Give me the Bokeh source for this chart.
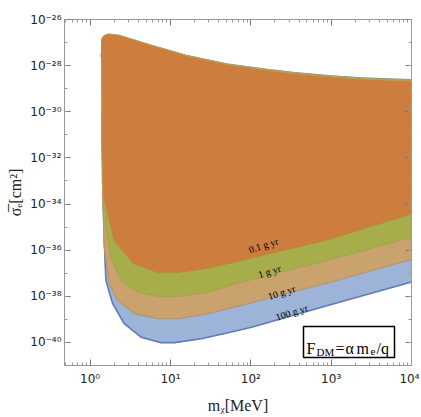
import numpy as np
from bokeh.plotting import figure
from bokeh.models import (LogAxis, FixedTicker, CustomJSTickFormatter,
                          Label, BoxAnnotation, Range1d)
from bokeh.core.properties import value
from bokeh.embed import file_html
from bokeh.resources import INLINE

# ---- data (mass in MeV, log10 of cross-section in cm^2) ----
upper_m = [1.38, 1.42, 1.50, 1.73, 2.3, 3.5, 6.0, 15.7, 52, 160, 355, 1000, 2420, 10000]
upper_blue = [-27.6, -26.82, -26.70, -26.63, -26.69, -26.88, -27.13, -27.55, -27.93, -28.16, -28.30, -28.44, -28.53, -28.61]
upper_shift_tan = 0.03
upper_shift_green = 0.06
upper_shift_orange = 0.11

low_100_m = [1.38, 1.40, 1.43, 1.50, 1.57, 1.91, 2.66, 4.3, 7.65, 11.2, 24.2, 57, 102, 1000, 10000]
low_100_s = [-27.6, -30.0, -33.0, -35.5, -37.31, -38.32, -39.19, -39.77, -40.01, -40.01, -39.84, -39.55, -39.34, -38.36, -37.38]

low_10_m = [1.39, 1.41, 1.45, 1.50, 1.73, 2.2, 3.55, 6.96, 12.4, 29.3, 76.5, 1000, 10000]
low_10_s = [-27.6, -31.0, -34.0, -35.87, -37.45, -38.18, -38.75, -38.97, -38.97, -38.75, -38.39, -37.38, -36.40]

low_1_m = [1.40, 1.42, 1.57, 1.81, 2.42, 3.91, 6.96, 12.4, 29.3, 76.5, 1000, 10000]
low_1_s = [-27.6, -31.5, -34.85, -36.30, -37.31, -37.82, -38.0, -38.0, -37.82, -37.38, -36.40, -35.43]

low_01_m = [1.41, 1.43, 1.50, 2.0, 3.55, 6.96, 12.4, 26.6, 76.5, 102, 841, 10000]
low_01_s = [-27.6, -31.0, -33.70, -35.57, -36.59, -36.95, -36.95, -36.80, -36.44, -36.33, -35.57, -34.42]

labels = ["100 g yr", "10 g yr", "1 g yr", "0.1 g yr"]
label_m = [323, 242, 171, 144]
label_s = [-38.70, -37.83, -36.92, -35.79]

fills = ["#9DB3D7", "#C9A26E", "#A7AD4B", "#CD7E3E"]
lines = ["#5A7EC0", "#C0955A", "#A0A845", "#CD7E3E"]

x_ticks = [1, 10, 100, 1000, 10000]
y_ticks = [1e-26, 1e-28, 1e-30, 1e-32, 1e-34, 1e-36, 1e-38, 1e-40]

p = figure(x_axis_type="log", y_axis_type="log",
           x_range=Range1d(0.48, 10000), y_range=Range1d(1e-41, 1e-26),
           frame_width=347, frame_height=346,
           min_border_left=64, min_border_top=19, min_border_right=8, min_border_bottom=50,
           output_backend="svg", toolbar_location=None)
p.grid.visible = False
p.outline_line_color = "#999999"
p.background_fill_color = "white"

bands = [(low_100_m, low_100_s, 0.0),
         (low_10_m, low_10_s, upper_shift_tan),
         (low_1_m, low_1_s, upper_shift_green),
         (low_01_m, low_01_s, upper_shift_orange)]

for i, (lm, ls, sh) in enumerate(bands):
    up_m = np.array(upper_m)
    up_s = np.array(upper_blue) - sh * np.linspace(0.2, 1, len(upper_m))
    xs = list(up_m) + list(lm[::-1])
    ys = list(10 ** up_s) + list(10 ** np.array(ls[::-1]))
    p.patch(xs, ys, fill_color=fills[i], line_color=fills[i], line_width=1)
    p.line(lm[1:], list(10 ** np.array(ls[1:])), line_color=lines[i], line_width=1.6 if i == 0 else 1.2)
    p.line(list(up_m), list(10 ** up_s), line_color=lines[i], line_width=1.2, line_alpha=0.6)

for t, m, s in zip(labels, label_m, label_s):
    p.text(x=[m], y=[10 ** s], text=[t], angle=0.31, text_align="center", text_baseline="middle",
           text_font=value("Liberation Serif"), text_font_size="10px", text_color="black")

fmt = CustomJSTickFormatter(code="""
const sup = {'-':'\\u207B','0':'\\u2070','1':'\\u00B9','2':'\\u00B2','3':'\\u00B3','4':'\\u2074','5':'\\u2075','6':'\\u2076','7':'\\u2077','8':'\\u2078','9':'\\u2079'};
const e = Math.round(Math.log10(tick));
return '10' + String(e).split('').map(c => sup[c]).join('');
""")
blank = CustomJSTickFormatter(code="return ' ';")

xax = p.xaxis[0]
xax.ticker = FixedTicker(ticks=x_ticks,
                         minor_ticks=[k * 10 ** d for d in range(-1, 4) for k in range(2, 10)])
yax = p.yaxis[0]
yax.ticker = FixedTicker(ticks=y_ticks, minor_ticks=[10.0 ** e for e in range(-41, -25)])

def style(ax):
    ax.major_tick_in = 6
    ax.major_tick_out = 0
    ax.minor_tick_in = 3
    ax.minor_tick_out = 0
    ax.axis_line_color = "#999999"
    ax.major_tick_line_color = "#777777"
    ax.minor_tick_line_color = "#999999"

for ax in (xax, yax):
    style(ax)
    ax.formatter = fmt
    ax.major_label_text_font = "DejaVu Sans"
    ax.major_label_text_font_size = "12px"
    ax.major_label_text_color = "#222222"
    ax.axis_label_text_font = "Liberation Serif"
    ax.axis_label_text_font_style = "normal"
    ax.axis_label_text_font_size = "16px"
    ax.axis_label_text_color = "#222222"

xax.axis_label = "m\u1D6A[MeV]"
yax.axis_label = "\u03C3\u0305\u2091[cm\u00B2]"
xax.major_label_standoff = 6
yax.major_label_standoff = 3
xax.axis_label_standoff = 8
yax.axis_label_standoff = 3

for loc, tk in (("right", yax.ticker), ("above", xax.ticker)):
    ax = LogAxis(ticker=tk, formatter=blank)
    style(ax)
    ax.major_label_text_font_size = "2px"
    ax.major_label_standoff = 0
    p.add_layout(ax, loc)

box = BoxAnnotation(left=303, right=394, top=326, bottom=357,
                    left_units="canvas", right_units="canvas", top_units="canvas", bottom_units="canvas",
                    fill_color="white", fill_alpha=1.0, line_color="black", line_alpha=1.0, line_width=1.5)
p.add_layout(box)

pieces = [("F", 306, 16, 348), ("DM", 316, 11, 351), ("=", 335, 16, 348), ("\u03B1", 345, 16, 348),
          ("m", 356, 16, 348), ("e", 370, 11, 351), ("/q", 376, 16, 348)]
for txt, xx, fs, yy in pieces:
    p.add_layout(Label(x=xx, y=yy, x_units="canvas", y_units="canvas", text=txt,
                       text_font="Liberation Serif", text_font_size=f"{fs}px",
                       text_baseline="alphabetic", text_color="black"))

html = file_html(p, INLINE)
open("out.html", "w").write(html)
